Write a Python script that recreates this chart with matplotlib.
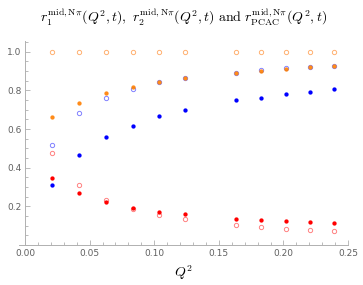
import matplotlib
matplotlib.use('Agg')
import matplotlib.pyplot as plt
from matplotlib.ticker import MultipleLocator

plt.rcParams['mathtext.fontset'] = 'cm'

# Q^2 values
q2 = [0.0207, 0.0418, 0.0627, 0.0834, 0.1037, 0.1238,
      0.1633, 0.1827, 0.2018, 0.2204, 0.2389]

# open markers (lighter colours)
pcac_open = [1.0, 1.0, 1.0, 1.0, 1.0, 1.0, 1.0, 1.0, 1.0, 1.0, 1.0]
r2_open = [0.520, 0.684, 0.763, 0.808, 0.841, 0.866, 0.892, 0.905, 0.914, 0.920, 0.925]
r1_open = [0.475, 0.311, 0.235, 0.185, 0.154, 0.133, 0.102, 0.093, 0.085, 0.076, 0.072]

# filled markers
pcac_full = [0.663, 0.737, 0.784, 0.815, 0.841, 0.864, 0.891, 0.902, 0.912, 0.919, 0.924]
r2_full = [0.312, 0.465, 0.558, 0.618, 0.665, 0.701, 0.750, 0.763, 0.782, 0.794, 0.805]
r1_full = [0.349, 0.268, 0.221, 0.193, 0.173, 0.159, 0.136, 0.128, 0.123, 0.118, 0.114]

fig = plt.figure(figsize=(3.63, 2.85), dpi=100)
ax = fig.add_axes([0.051, 0.140, 0.908, 0.716])

ms = 3.1
ax.plot(q2, pcac_open, 'o', ms=ms, mfc='none', mec='#ffb070', mew=0.7)
ax.plot(q2, r2_open, 'o', ms=ms, mfc='none', mec='#8080ff', mew=0.7)
ax.plot(q2, r1_open, 'o', ms=ms, mfc='none', mec='#ff8080', mew=0.7)
ax.plot(q2, r2_full, 'o', ms=ms, color='#0000ff', mew=0)
ax.plot(q2, r1_full, 'o', ms=ms, color='#ff0000', mew=0)
ax.plot(q2, pcac_full, 'o', ms=ms, color='#ff7f00', mew=0, alpha=0.9)

ax.set_xlim(-0.005, 0.25)
ax.set_ylim(0, 1.055)
ax.spines['top'].set_visible(False)
ax.spines['right'].set_visible(False)
ax.spines['left'].set_position(('data', 0))
for s in ['left', 'bottom']:
    ax.spines[s].set_color('#b0b0b0')
    ax.spines[s].set_linewidth(0.7)

ax.set_xticks([0.0, 0.05, 0.10, 0.15, 0.20, 0.25])
ax.set_xticklabels(['0.00', '0.05', '0.10', '0.15', '0.20', '0.25'])
ax.set_yticks([0.2, 0.4, 0.6, 0.8, 1.0])
ax.set_yticklabels(['0.2', '0.4', '0.6', '0.8', '1.0'])
ax.xaxis.set_minor_locator(MultipleLocator(0.01))
ax.yaxis.set_minor_locator(MultipleLocator(0.05))
ax.tick_params(which='both', direction='in', color='#b0b0b0', width=0.6,
               labelsize=6.5, labelcolor='#606060')
ax.tick_params(which='major', length=3.5, pad=2.5)
ax.tick_params(which='minor', length=2)

ax.set_xlabel('$Q^2$', fontsize=10, labelpad=4)
fig.text(0.505, 0.94,
         r'$r_1^{\mathrm{mid,N}\pi}(Q^2,t),\ r_2^{\mathrm{mid,N}\pi}(Q^2,t)\ \mathrm{and}\ r_{\mathrm{PCAC}}^{\mathrm{mid,N}\pi}(Q^2,t)$',
         ha='center', va='center', fontsize=10)

fig.savefig('out.png', dpi=100)
